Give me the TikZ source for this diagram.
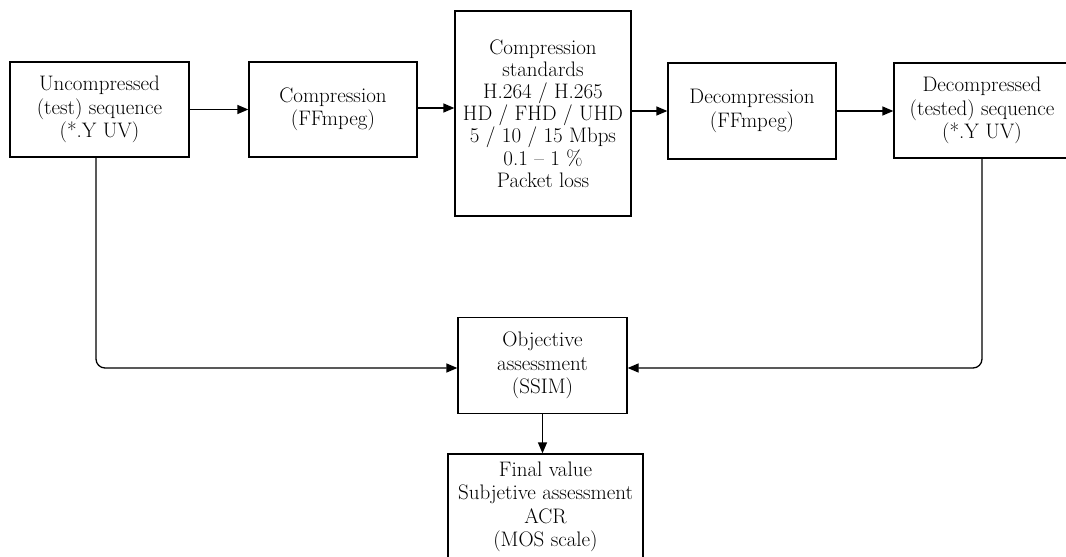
\documentclass[tikz,border=0pt]{standalone}
\usetikzlibrary{arrows.meta}
\begin{document}
\begin{tikzpicture}[x=1pt,y=-1pt,
  box/.style={draw, line width=1.3pt, align=center, inner sep=0pt,
    font=\fontsize{21}{23.5}\selectfont},
  arr/.style={line width=1.3pt, -{Triangle[length=11pt,width=9pt]}}]
\useasboundingbox (0,0) rectangle (1066,557);
\clip (0,0) rectangle (1066,557);
\node[box, minimum width=179pt, minimum height=95pt] (b1) at (99.5,109.5)
  {Uncompressed\\(test) sequence\\(*.Y UV)};
\node[box, minimum width=168pt, minimum height=95pt] (b2) at (333,109.5)
  {Compression\\(FFmpeg)};
\node[box, minimum width=176pt, minimum height=205pt, font=\fontsize{21}{22.2}\selectfont] (b3) at (543,113.5)
  {Compression\\standards\\H.264 / H.265\\HD / FHD / UHD\\5 / 10 / 15 Mbps\\0.1 -- 1 \%\\Packet loss};
\node[box, minimum width=168pt, minimum height=96pt] (b4) at (752,111)
  {Decompression\\(FFmpeg)};
\node[box, minimum width=176pt, minimum height=95pt] (b5) at (982,110.5)
  {Decompressed\\(tested) sequence\\(*.Y UV)};
\node[box, minimum width=169pt, minimum height=96pt] (obj) at (542.5,365.5)
  {Objective\\assessment\\(SSIM)};
\node[box, minimum width=195pt, minimum height=106pt] (fin) at (545.5,507)
  {Final value\\Subjetive assessment\\ACR\\(MOS scale)};
\coordinate (l1) at ([xshift=-3.5pt]b1.south);
\draw[arr] (b1.east) -- (b2.west);
\draw[arr] ([yshift=1.5pt]b2.east) -- ([yshift=1.5pt]b2.east -| b3.west);
\draw[arr] (b3.east |- b4.west) -- (b4.west);
\draw[arr] (b4.east) -- (b4.east -| b5.west);
\draw[arr, rounded corners=9pt] (l1) |- ([yshift=-2.5pt]obj.west);
\draw[arr, rounded corners=9pt] (b5.south) |- ([yshift=-2.5pt]obj.east);
\draw[arr] (obj.south) -- (obj.south |- fin.north);
\end{tikzpicture}
\end{document}
